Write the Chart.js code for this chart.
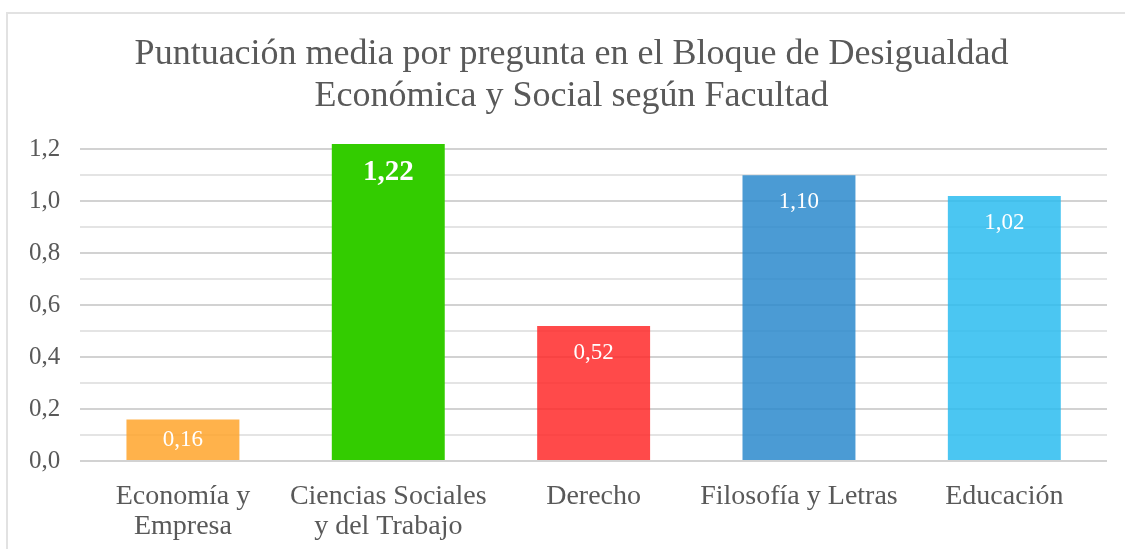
<!DOCTYPE html>
<html>
<head>
<meta charset="utf-8">
<script src="https://cdn.jsdelivr.net/npm/chart.js@4"></script>
<style>
  html, body { margin: 0; padding: 0; background: #fff; overflow: hidden; }
  #box { position: absolute; left: 6px; top: 12px; width: 1119px; height: 537px;
         border-left: 2px solid #e2e2e2; border-top: 2px solid #e2e2e2; }
  #wrap { position: absolute; left: 0; top: 0; width: 1125px; height: 564px; }
</style>
</head>
<body>
<div id="box"></div>
<div id="wrap"><canvas id="chart-js"></canvas></div>
<script>
    // datos
    const facultades = [
        ['Economía y', 'Empresa'],
        ['Ciencias Sociales', 'y del Trabajo'],
        'Derecho',
        'Filosofía y Letras',
        'Educación'
    ];
    const puntuacion = [0.16, 1.22, 0.52, 1.10, 1.02];
    const colores = [
        'rgba(255, 164, 43, 0.85)',
        'rgb(51, 204, 0)',
        'rgba(255, 42, 42, 0.85)',
        'rgba(44, 137, 204, 0.85)',
        'rgba(43, 188, 240, 0.85)'
    ];
    // los espacios iniciales corren el titulo un poco a la derecha, como en el original
    const tituloLineas = [
        '   Puntuación media por pregunta en el Bloque de Desigualdad',
        '   Económica y Social según Facultad'
    ];

    const fuente = '"Liberation Serif", "Times New Roman", serif';
    const gris = '#595959';

    const fmt = v => v.toFixed(2).replace('.', ',');

    // etiquetas dentro de la barra, arriba
    const etiquetas = {
        id: 'etiquetas',
        afterDatasetsDraw(chart) {
            const ctx = chart.ctx;
            const meta = chart.getDatasetMeta(0);
            ctx.save();
            ctx.fillStyle = '#ffffff';
            ctx.textAlign = 'center';
            ctx.textBaseline = 'middle';
            meta.data.forEach((bar, i) => {
                const grande = i === 1;
                ctx.font = (grande ? 'bold 29px ' : '23px ') + fuente;
                let y = Math.min(bar.y + (grande ? 28 : 27), (bar.y + bar.base) / 2);
                ctx.fillText(fmt(puntuacion[i]), bar.x, y);
            });
            ctx.restore();
        }
    };

    const ctx = document.getElementById('chart-js').getContext('2d');

    const myChart = new Chart(ctx, {
        type: 'bar',
        data: {
            labels: facultades,
            datasets: [{
                data: puntuacion,
                backgroundColor: colores,
                borderWidth: 0,
                categoryPercentage: 1,
                barPercentage: 0.55,
                clip: false
            }]
        },
        options: {
            responsive: true,
            maintainAspectRatio: false,
            animation: false,
            layout: { padding: { left: 9, right: 18, top: 0, bottom: 9 } },
            plugins: {
                legend: { display: false },
                tooltip: { enabled: false },
                title: {
                    display: true,
                    text: tituloLineas,
                    color: gris,
                    font: { family: fuente, size: 36, weight: 'normal', lineHeight: 1.17 },
                    padding: { top: 33, bottom: 32 }
                }
            },
            scales: {
                x: {
                    grid: { display: false },
                    border: { display: false },
                    ticks: {
                        color: gris,
                        font: { family: fuente, size: 28, lineHeight: 1.07 },
                        maxRotation: 0,
                        padding: 13
                    }
                },
                y: {
                    min: 0,
                    max: 1.2,
                    border: { display: false },
                    grid: {
                        drawTicks: false,
                        lineWidth: 2,
                        color: c => (Math.round(c.tick.value * 10) % 2 === 0) ? '#d2d2d2' : '#e4e4e4'
                    },
                    ticks: {
                        stepSize: 0.1,
                        autoSkip: false,
                        color: gris,
                        padding: 20,
                        font: { family: fuente, size: 25 },
                        callback: v => (Math.round(v * 10) % 2 === 0) ? v.toFixed(1).replace('.', ',') : ''
                    }
                }
            }
        },
        plugins: [etiquetas]
    });
</script>
</body>
</html>
